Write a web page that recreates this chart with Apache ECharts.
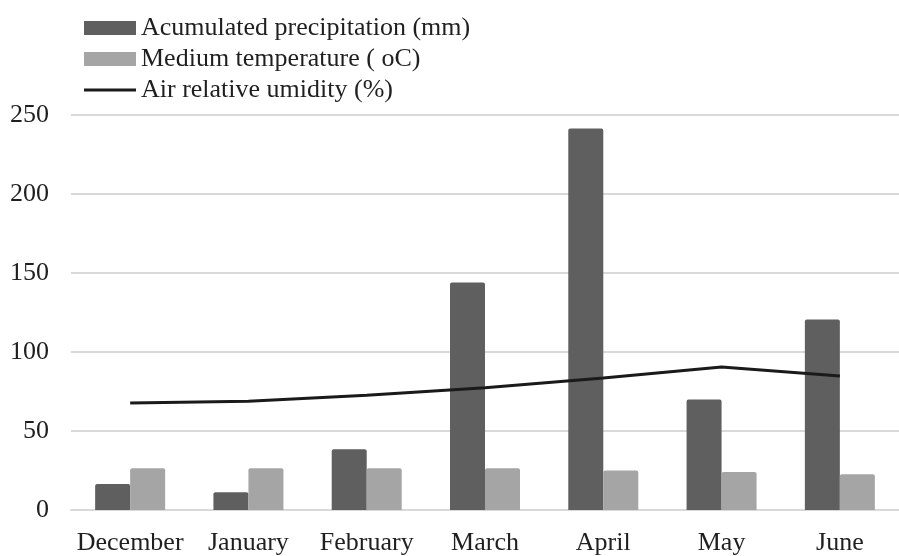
<!DOCTYPE html>
<html>
<head>
<meta charset="utf-8">
<script src="https://cdn.jsdelivr.net/npm/echarts@6/dist/echarts.min.js"></script>
<style>
  html, body { margin: 0; padding: 0; background: #fff; }
  #chart { width: 899px; height: 556px; }
</style>
</head>
<body>
<div id="chart"></div>
<script>
// data
var months = ["December", "January", "February", "March", "April", "May", "June"];
var precipitation = [16.4, 11.3, 38.4, 144, 241.4, 70, 120.5];
var temperature = [26.4, 26.4, 26.4, 26.4, 25, 24.1, 22.6];
var humidity = [67.8, 68.8, 72.6, 77.3, 83.5, 90.5, 84.8];
var yTicks = [0, 50, 100, 150, 200, 250];

var font = "Liberation Serif";
var textColor = "#1f1f1f";
var chart = echarts.init(document.getElementById("chart"));

var option = {
  animation: false,
  textStyle: { fontFamily: font },
  legend: {
    orient: "vertical",
    left: 79,
    top: 10,
    itemWidth: 52,
    itemHeight: 14,
    itemGap: 5,
    textStyle: { fontFamily: font, fontSize: 26, color: textColor },
    data: [
      { name: "Acumulated precipitation (mm)", icon: "rect" },
      { name: "Medium temperature ( oC)", icon: "rect" },
      { name: "Air relative umidity (%)", icon: "path://M0 0H52V3H0Z" }
    ]
  },
  grid: { left: 71, right: -14, top: 115, bottom: 44 },
  xAxis: {
    type: "category",
    data: months,
    axisLine: { show: true, lineStyle: { color: "#d9d9d9", width: 2 } },
    axisTick: { show: false },
    axisLabel: { interval: 0, fontFamily: font, fontSize: 26, color: textColor, margin: 20 }
  },
  yAxis: {
    type: "value",
    min: yTicks[0],
    max: yTicks[yTicks.length - 1],
    interval: 50,
    axisLine: { show: false },
    axisTick: { show: false },
    splitLine: { lineStyle: { color: "#d9d9d9", width: 2 } },
    axisLabel: { fontFamily: font, fontSize: 26, color: textColor, margin: 22 }
  },
  series: [
    {
      name: "Acumulated precipitation (mm)",
      type: "bar",
      data: precipitation,
      barWidth: 35,
      barGap: "0%",
      itemStyle: { color: "#5f5f5f", borderRadius: [2, 2, 0, 0] }
    },
    {
      name: "Medium temperature ( oC)",
      type: "bar",
      data: temperature,
      barWidth: 35,
      barGap: "0%",
      itemStyle: { color: "#a5a5a5", borderRadius: [2, 2, 0, 0] }
    },
    {
      name: "Air relative umidity (%)",
      type: "line",
      data: humidity,
      symbol: "none",
      lineStyle: { color: "#1a1a1a", width: 3 },
      itemStyle: { color: "#1a1a1a" },
      z: 5
    }
  ]
};

chart.setOption(option);
</script>
</body>
</html>
